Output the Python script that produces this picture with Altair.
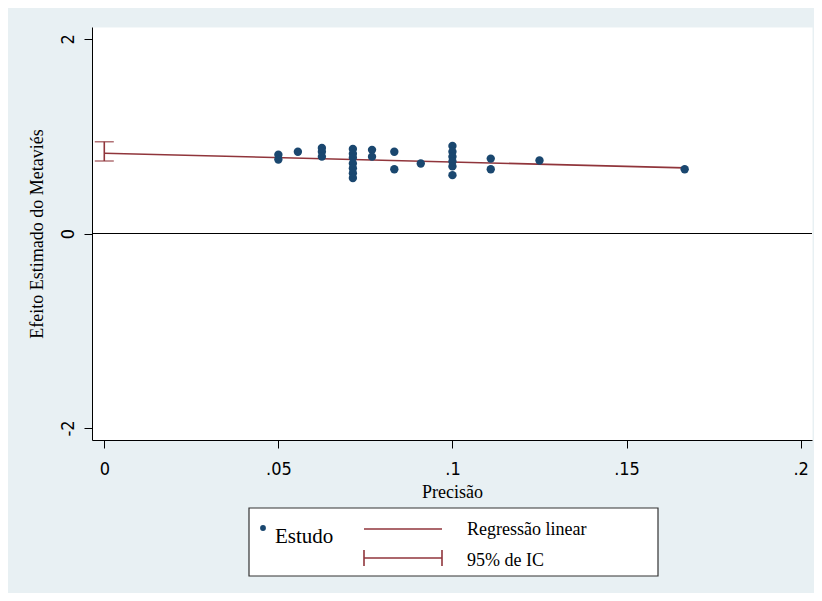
import altair as alt
import pandas as pd

# ---- data ----
precision = [0.05, 0.05, 0.0556, 0.0625, 0.0625, 0.0625,
             0.0714, 0.0714, 0.0714, 0.0714, 0.0714, 0.0714, 0.0714,
             0.0769, 0.0769, 0.0833, 0.0833, 0.0909,
             0.1, 0.1, 0.1, 0.1, 0.1, 0.1,
             0.111, 0.111, 0.125, 0.1667]
effect = [0.81, 0.76, 0.84, 0.88, 0.84, 0.79,
          0.87, 0.82, 0.78, 0.72, 0.67, 0.62, 0.57,
          0.86, 0.79, 0.84, 0.66, 0.72,
          0.90, 0.84, 0.79, 0.74, 0.69, 0.60,
          0.77, 0.66, 0.75, 0.66]

reg_x = [0.0, 0.1667]
reg_y = [0.825, 0.675]

ci_x = [0.0]
ci_low = [0.745]
ci_high = [0.944]

zero_line = [0]

x_ticks = [0, 0.05, 0.1, 0.15, 0.2]
y_ticks = [-2, 0, 2]

legend_labels = ["Estudo", "Regressão linear", "95% de IC"]
x_title = "Precisão"
y_title = "Efeito Estimado do Metaviés"

# ---- styling ----
NAVY = "#1a476f"
MAROON = "#90353b"
BG = "#e8f0f3"
SERIF = "Liberation Serif"
NARROW = "Liberation Sans Narrow, DejaVu Sans Condensed, Arial Narrow, sans-serif"

xscale = alt.Scale(domain=[-0.00353, 0.20327], nice=False, zero=False)
yscale = alt.Scale(domain=[-2.123, 2.123], nice=False, zero=False)

pts_df = pd.DataFrame({"x": precision, "y": effect})
reg_df = pd.DataFrame({"x": reg_x, "y": reg_y})
ci_df = pd.DataFrame({"x": ci_x, "lo": ci_low, "hi": ci_high})
ci_ends = pd.DataFrame({"x": ci_x * 2, "y": ci_low + ci_high})
zero_df = pd.DataFrame({"y": zero_line})

xaxis = alt.Axis(
    values=x_ticks, grid=False, title=x_title,
    labelExpr="datum.value == 0 ? '0' : replace(format(datum.value, '.2~f'), '0.', '.')",
    labelFont=NARROW, labelFontSize=18, labelColor="#000", labelPadding=12,
    labelBaseline="top",
    tickSize=8, tickColor="#000", domainColor="#000", domainWidth=1,
    titleFont=SERIF, titleFontSize=18, titleFontWeight="normal", titleColor="#000",
    titleY=57, titleBaseline="alphabetic",
)
yaxis = alt.Axis(
    values=y_ticks, grid=False, title=y_title,
    labelExpr="datum.value < 0 ? '-' + (-datum.value) : '' + datum.value",
    labelFont=NARROW, labelFontSize=18, labelColor="#000", labelPadding=11,
    labelAngle=270, labelAlign="center", labelBaseline="alphabetic",
    tickSize=8, tickColor="#000", domainColor="#000", domainWidth=1,
    titleFont=SERIF, titleFontSize=18, titleFontWeight="normal", titleColor="#000",
    titleAngle=270, titleX=-50, titleY=206.5, titleBaseline="alphabetic", titleAlign="center",
)

zero = alt.Chart(zero_df).mark_rule(color="#000", strokeWidth=1).encode(
    y=alt.Y("y:Q", scale=yscale, axis=yaxis)
)

reg = alt.Chart(reg_df).mark_line(color=MAROON, strokeWidth=1.6).encode(
    x=alt.X("x:Q", scale=xscale, axis=xaxis),
    y=alt.Y("y:Q", scale=yscale),
)

ci_rule = alt.Chart(ci_df).mark_rule(color=MAROON, strokeWidth=1.6).encode(
    x=alt.X("x:Q", scale=xscale),
    y=alt.Y("lo:Q", scale=yscale),
    y2="hi:Q",
)
ci_caps = alt.Chart(ci_ends).mark_tick(color=MAROON, orient="horizontal", size=19, thickness=1.6).encode(
    x=alt.X("x:Q", scale=xscale),
    y=alt.Y("y:Q", scale=yscale),
)

pts = alt.Chart(pts_df).mark_circle(color=NAVY, opacity=1, size=70).encode(
    x=alt.X("x:Q", scale=xscale),
    y=alt.Y("y:Q", scale=yscale),
)

# ---- legend (drawn below the plot) ----
one = pd.DataFrame({"k": [0]})
leg_box = alt.Chart(one).mark_rect(fill="white", stroke="#333333", strokeWidth=1.2).encode(
    x=alt.value(157), x2=alt.value(566), y=alt.value(481), y2=alt.value(549)
)
leg_dot = alt.Chart(one).mark_circle(color=NAVY, opacity=1, size=34).encode(
    x=alt.value(171), y=alt.value(501)
)
leg_t1 = alt.Chart(pd.DataFrame({"label": [legend_labels[0]]})).mark_text(
    font=SERIF, fontSize=21, align="left", baseline="alphabetic", color="#000"
).encode(x=alt.value(183), y=alt.value(515.5), text="label:N")
leg_line = alt.Chart(one).mark_rule(color=MAROON, strokeWidth=1.6).encode(
    x=alt.value(272), x2=alt.value(350), y=alt.value(502)
)
leg_t2 = alt.Chart(pd.DataFrame({"label": [legend_labels[1]]})).mark_text(
    font=SERIF, fontSize=18, align="left", baseline="alphabetic", color="#000"
).encode(x=alt.value(375), y=alt.value(508), text="label:N")
leg_ci_h = alt.Chart(one).mark_rule(color=MAROON, strokeWidth=1.6).encode(
    x=alt.value(272), x2=alt.value(350), y=alt.value(531)
)
leg_ci_l = alt.Chart(one).mark_rule(color=MAROON, strokeWidth=1.6).encode(
    x=alt.value(272), y=alt.value(523), y2=alt.value(539)
)
leg_ci_r = alt.Chart(one).mark_rule(color=MAROON, strokeWidth=1.6).encode(
    x=alt.value(350), y=alt.value(523), y2=alt.value(539)
)
leg_t3 = alt.Chart(pd.DataFrame({"label": [legend_labels[2]]})).mark_text(
    font=SERIF, fontSize=18, align="left", baseline="alphabetic", color="#000"
).encode(x=alt.value(375), y=alt.value(539), text="label:N")

chart = alt.layer(
    zero, reg, ci_rule, ci_caps, pts,
    leg_box, leg_dot, leg_t1, leg_line, leg_t2, leg_ci_h, leg_ci_l, leg_ci_r, leg_t3,
).properties(
    width=720, height=413,
    background=BG,
    autosize=alt.AutoSizeParams(type="none"),
    padding={"left": 84, "top": 19, "right": 2, "bottom": 153},
).configure_view(fill="white", stroke="transparent")

chart.save("out.html", embed_options={"renderer": "svg", "actions": False})
